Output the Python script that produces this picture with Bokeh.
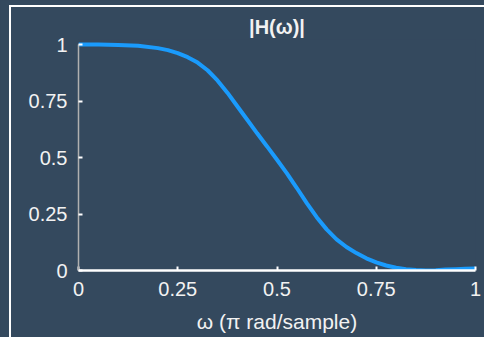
from bokeh.plotting import figure
from bokeh.models import Range1d, FixedTicker, InlineStyleSheet
from bokeh.embed import file_html
from bokeh.resources import INLINE

# ---- data ----
omega = [0.0, 0.05, 0.1, 0.15, 0.2, 0.225, 0.25, 0.275, 0.3, 0.325, 0.35, 0.375,
         0.4, 0.425, 0.45, 0.475, 0.5, 0.525, 0.55, 0.575, 0.6, 0.625, 0.65,
         0.675, 0.7, 0.725, 0.75, 0.775, 0.8, 0.825, 0.85, 0.875, 0.9, 0.925,
         0.95, 0.975, 1.0]
mag = [1.0, 0.9995, 0.998, 0.994, 0.984, 0.975, 0.962, 0.944, 0.92, 0.886, 0.841, 0.787,
       0.727, 0.667, 0.607, 0.549, 0.49, 0.43, 0.365, 0.298, 0.236, 0.182, 0.138,
       0.104, 0.077, 0.054, 0.036, 0.022, 0.012, 0.006, 0.002, 0.0, 0.001, 0.004,
       0.006, 0.008, 0.009]

x_ticks = [0, 0.25, 0.5, 0.75, 1]
x_tick_labels = ["0", "0.25", "0.5", "0.75", "1"]
y_ticks = [0, 0.25, 0.5, 0.75, 1]
y_tick_labels = ["0", "0.25", "0.5", "0.75", "1"]

title_text = "|H(ω)|"
x_label = "ω (π rad/sample)"

BG = "#34495e"
LINE = "#1a9bfc"
TXT = "#f2f2f2"
FONT = "Liberation Sans"

pad = 5 / 226

border_css = InlineStyleSheet(css="""
:host { background-color: #34495e; overflow: hidden; }
:host::after { content: ''; position: absolute; left: 9px; top: 5px;
  width: 700px; height: 700px; border-left: 2px solid #ffffff;
  border-top: 2px solid #ffffff; pointer-events: none; z-index: 10; }
""")

p = figure(width=484, height=337, output_backend="svg", toolbar_location=None,
           x_range=Range1d(0, 1), y_range=Range1d(0, 1 + pad),
           min_border_left=78, min_border_right=9, min_border_top=39, min_border_bottom=67,
           background_fill_color=BG, border_fill_color=BG,
           styles={"background-color": BG}, stylesheets=[border_css])
p.outline_line_color = None
p.grid.visible = False

p.title.text = title_text
p.title.align = "center"
p.title.text_color = TXT
p.title.text_font = FONT
p.title.text_font_size = "20px"
p.title.text_font_style = "bold"
p.title.standoff = 3

p.line(omega, mag, line_color=LINE, line_width=4)

xa = p.xaxis[0]
xa.bounds = (0, 1)
xa.ticker = FixedTicker(ticks=x_ticks)
xa.major_label_overrides = {t: s for t, s in zip(x_ticks, x_tick_labels)}
xa.axis_line_color = "white"
xa.axis_line_width = 2.5
xa.major_tick_line_color = "white"
xa.major_tick_line_width = 2
xa.major_tick_in = 4
xa.major_tick_out = 0
xa.minor_tick_line_color = None
xa.major_label_text_color = TXT
xa.major_label_text_font = FONT
xa.major_label_text_font_size = "20px"
xa.major_label_standoff = 11
xa.axis_label = x_label
xa.axis_label_text_color = TXT
xa.axis_label_text_font = FONT
xa.axis_label_text_font_size = "21px"
xa.axis_label_text_font_style = "normal"
xa.axis_label_standoff = 11

ya = p.yaxis[0]
ya.bounds = (0, 1)
ya.ticker = FixedTicker(ticks=y_ticks)
ya.major_label_overrides = {t: s for t, s in zip(y_ticks, y_tick_labels)}
ya.axis_line_color = "#b0b0b0"
ya.axis_line_width = 1.5
ya.major_tick_line_color = "white"
ya.major_tick_line_width = 2
ya.major_tick_in = 4
ya.major_tick_out = 0
ya.minor_tick_line_color = None
ya.major_label_text_color = TXT
ya.major_label_text_font = FONT
ya.major_label_text_font_size = "20px"
ya.major_label_standoff = 11

open("out.html", "w").write(file_html(p, INLINE))
